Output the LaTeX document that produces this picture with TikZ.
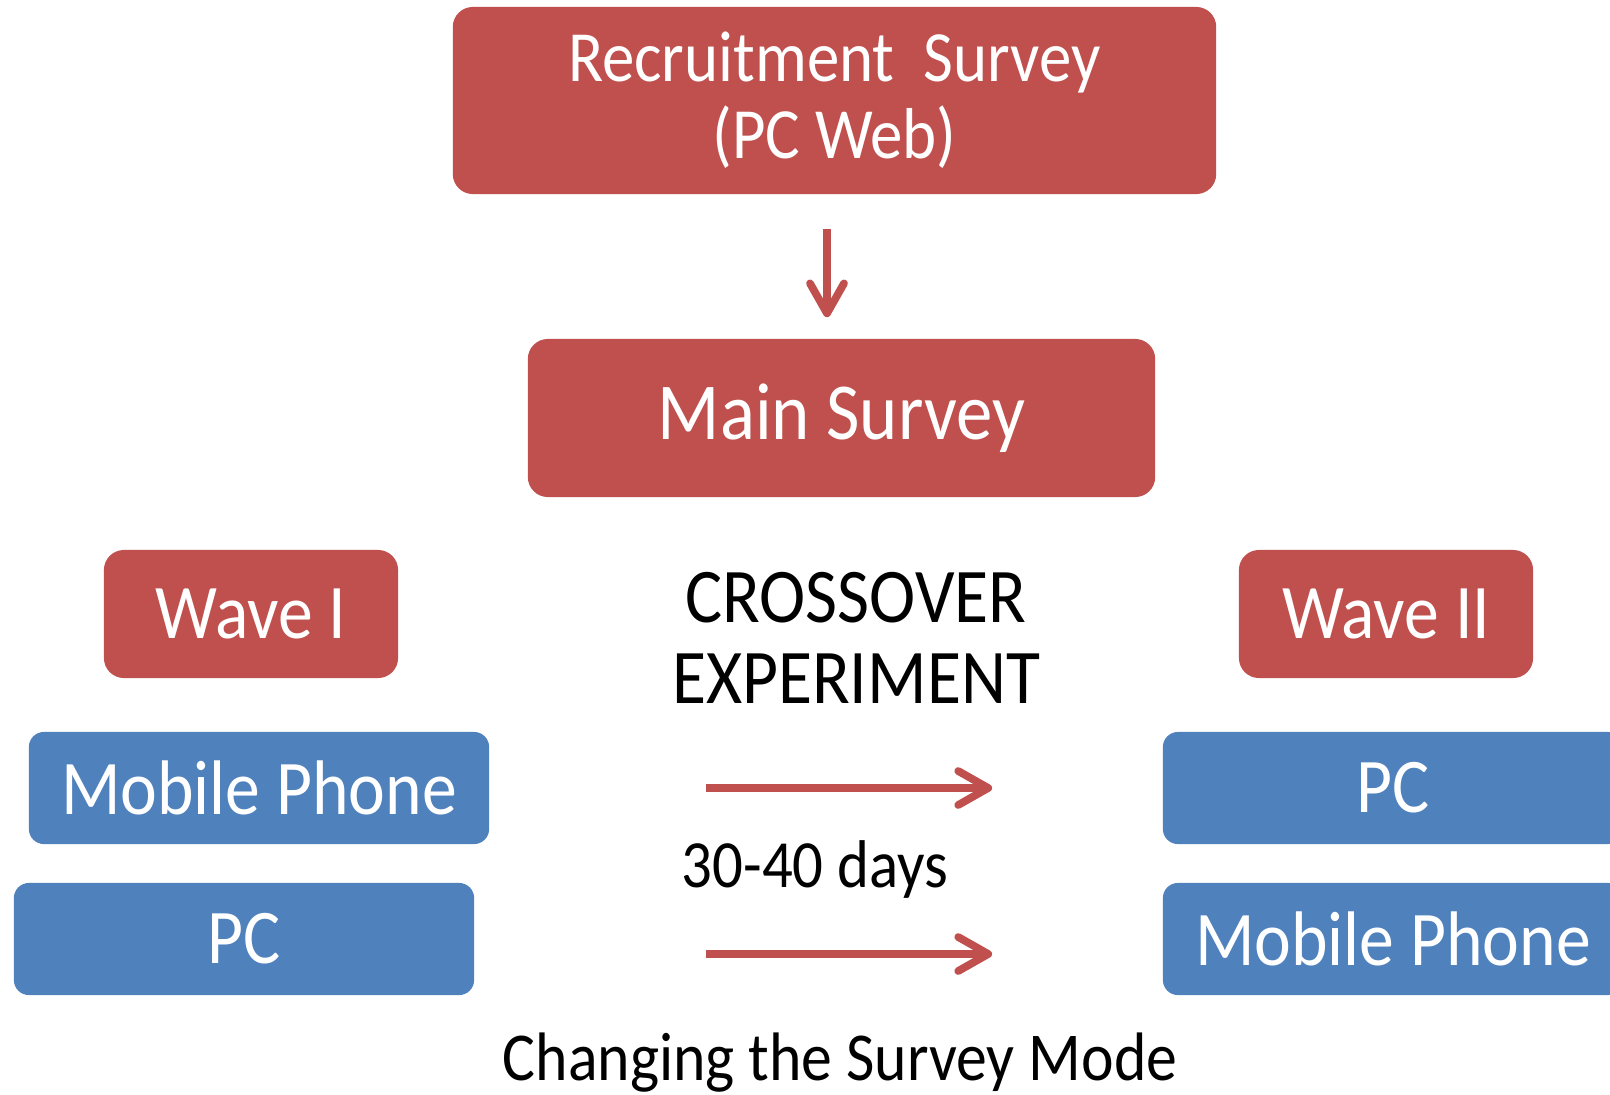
\documentclass[tikz,border=0pt]{standalone}
\usepackage{fontspec}
\setmainfont{Carlito}[FakeStretch=0.9]
\usetikzlibrary{arrows.meta}
\definecolor{boxred}{HTML}{C0504D}
\definecolor{boxblue}{HTML}{4F81BD}

\begin{document}
\begin{tikzpicture}[x=0.01cm, y=-0.01cm,
  redbox/.style={fill=boxred, text=white, rounded corners=0.2cm},
  bluebox/.style={fill=boxblue, text=white, rounded corners=0.15cm, minimum width=4.6cm, minimum height=1.12cm, font=\fontsize{22}{24}\selectfont},
  wavebox/.style={redbox, minimum width=2.94cm, minimum height=1.28cm, font=\fontsize{22}{24}\selectfont},
  redarrow/.style={->, draw=boxred, line width=2.2pt},
  >={Straight Barb[length=0.3cm,width=0.34cm,round]}]
 \useasboundingbox (0,0) rectangle (1610,1094);
 % survey steps
 \node[redbox, minimum width=7.63cm, minimum height=1.87cm, align=center, font=\fontsize{20.5}{21.9}\selectfont] (rec) at (834.5,100.5) {Recruitment\ \ Survey\\(PC Web)};
 \node[redbox, minimum width=6.27cm, minimum height=1.58cm, font=\fontsize{23}{25}\selectfont] (main) at (841.5,418) {Main Survey};
 \draw[redarrow, shorten <=0.34cm, shorten >=0.21cm] ([xshift=-0.075cm]rec.south) -- ([xshift=-0.075cm]rec.south |- main.north);
 % waves
 \node[wavebox] (wave1) at (251,614) {Wave I};
 \node[wavebox] (wave2) at (1386,614) {Wave II};
 \node[bluebox] (mob1) at (259,788) {Mobile Phone};
 \node[bluebox] (pc1) at (244,939) {PC};
 \node[bluebox] (pc2) at (1393,788) {PC};
 \node[bluebox] (mob2) at (1393,939) {Mobile Phone};
 % crossover
 \node[align=center, font=\fontsize{22}{23}\selectfont] (cross) at (856,638) {CROSSOVER\\EXPERIMENT};
 \node[anchor=base, font=\fontsize{19.2}{21}\selectfont] (days) at (815,887) {30-40 days};
 \draw[redarrow, shorten <=2.16cm, shorten >=1.70cm] (mob1.east) -- (pc2.west);
 \draw[redarrow, shorten <=2.31cm, shorten >=1.70cm] ([yshift=-0.15cm]pc1.east) -- ([yshift=-0.15cm]mob2.west);
 \node[anchor=base, font=\fontsize{19.5}{21}\selectfont] (mode) at (840,1080) {Changing the Survey Mode};
\end{tikzpicture}
\end{document}
